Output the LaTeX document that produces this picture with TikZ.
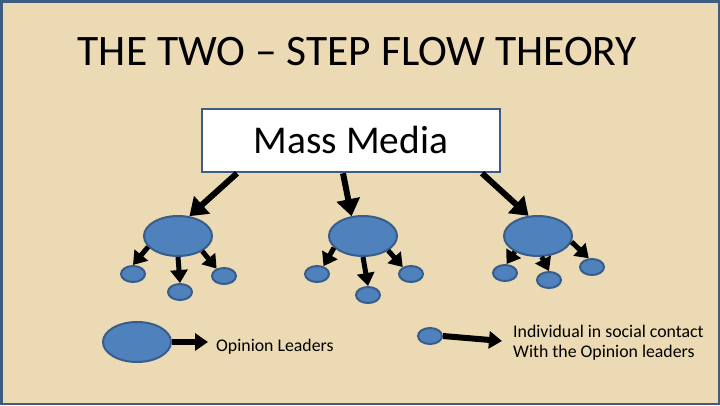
\documentclass[tikz,border=0pt]{standalone}
\usepackage{fontspec}
\setmainfont{Carlito}
\usetikzlibrary{arrows.meta,shapes.geometric,calc}
\definecolor{bg}{HTML}{EBDAB3}
\definecolor{frame}{HTML}{3E5B80}
\definecolor{blob}{HTML}{4F81BD}
\definecolor{blobline}{HTML}{385D8A}
\begin{document}
\begin{tikzpicture}[x=1pt,y=-1pt,
  leader/.style={ellipse, fill=blob, draw=blobline, line width=2pt, minimum width=68pt, minimum height=40pt, inner sep=0pt},
  person/.style={ellipse, fill=blob, draw=blobline, line width=2pt, minimum width=24pt, minimum height=16pt, inner sep=0pt},
  bigarr/.style={line width=6pt, -{Triangle[length=17pt,width=23pt]}},
  smallarr/.style={line width=5pt, -{Triangle[length=13pt,width=17pt]}},
  legarr/.style={line width=6pt, -{Triangle[length=13pt,width=17pt]}},
  label/.style={font=\fontsize{17.8}{20}\selectfont, inner sep=0pt, align=left}
]
\useasboundingbox (0,0) rectangle (720,405);
\draw[fill=bg, draw=frame, line width=2.5pt] (1.25,1.25) rectangle (718.75,403.75);

% title
\node[anchor=base, inner sep=0pt, font=\fontsize{43.5}{50}\selectfont] (title) at (357.5,65) {THE TWO – STEP FLOW THEORY};

% mass media box
\node[draw=frame, fill=white, line width=2.5pt, minimum width=298pt, minimum height=63pt, inner sep=0pt] (mm) at (351,140.5) {};
\node[anchor=base, inner sep=0pt, font=\fontsize{39.4}{45}\selectfont] (mmtext) at (351,153) {Mass Media};

% opinion leaders
\node[leader] (L) at (178,236) {};
\node[leader] (M) at (363,236) {};
\node[leader] (R) at (538,236) {};

% individuals
\node[person] (l1) at (133,274) {};
\node[person] (l2) at (180,292) {};
\node[person] (l3) at (224,276) {};
\node[person] (m1) at (317,274) {};
\node[person] (m2) at (368,295) {};
\node[person] (m3) at (411,274) {};
\node[person] (r1) at (505,273) {};
\node[person] (r2) at (549,280) {};
\node[person] (r3) at (592,267) {};

% mass media -> leaders
\draw[bigarr] ($(mm.south)+(-114,0)$) -- (L.60);
\draw[bigarr] ($(mm.south)+(-8,0)$) -- (M.120);
\draw[bigarr] ($(mm.south)+(131,0)$) -- (R.115);

% leaders -> individuals
\draw[smallarr] (L.200) -- (l1.90);
\draw[smallarr] (L.270) -- (l2.90);
\draw[smallarr] (L.-32) -- (l3.135);
\draw[smallarr] (M.202) -- (m1.50);
\draw[smallarr] (M.270) -- (m2.90);
\draw[smallarr] (M.-30) -- (m3.140);
\draw[smallarr] (R.214) -- (r1.80);
\draw[smallarr] (R.-80) -- (r2.90);
\draw[smallarr] (R.-10) -- (r3.110);

% legend
\node[leader] (legL) at (137,342) {};
\coordinate (legLtip) at (208,342);
\draw[legarr] (legL.east) -- (legLtip);
\node[label, anchor=base west] (legLtext) at (216,351) {Opinion Leaders};

\node[person] (legP) at (430,336) {};
\coordinate (legPtip) at (502,341);
\draw[legarr] (legP.east) -- (legPtip);
\node[label, anchor=west] (legPtext) at (513,342.5) {Individual in social contact\\With the Opinion leaders};
\end{tikzpicture}
\end{document}
